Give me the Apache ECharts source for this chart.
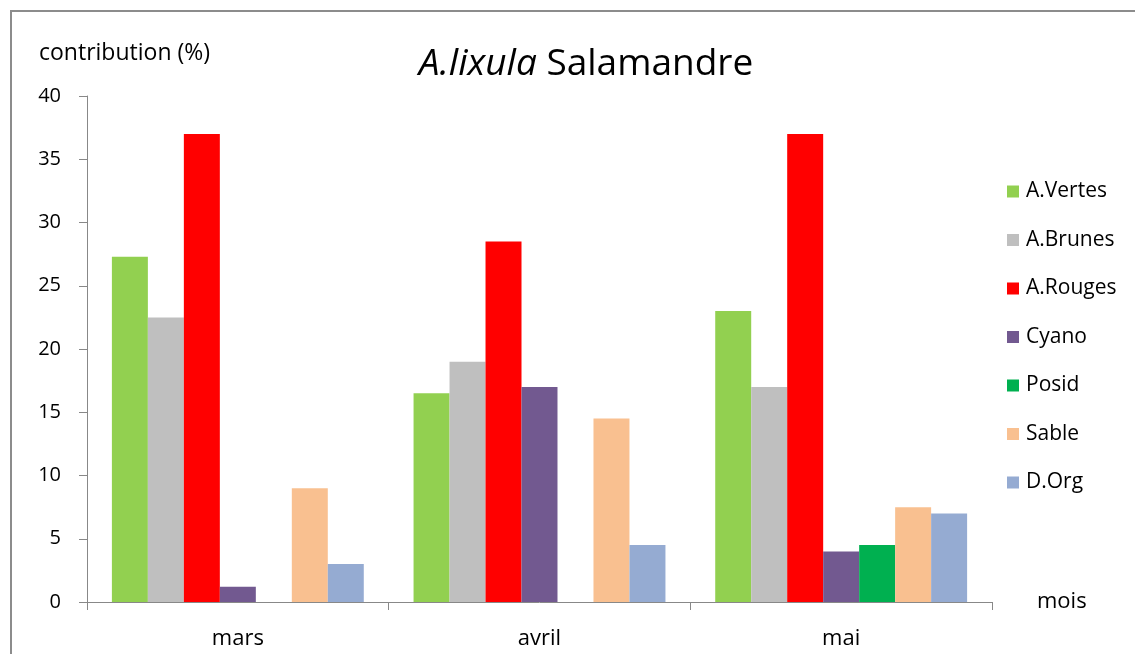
<!DOCTYPE html>
<html>
<head>
<meta charset="utf-8">
<title>A.lixula Salamandre</title>
<script src="https://cdn.jsdelivr.net/npm/echarts@6/dist/echarts.min.js"></script>
<style>
  html, body { margin: 0; padding: 0; background: #fff; }
  #chart { width: 1135px; height: 654px; }
</style>
</head>
<body>
<div id="chart"></div>
<script>
// donnees
var mois = ['mars', 'avril', 'mai'];
var groupes = ['A.Vertes', 'A.Brunes', 'A.Rouges', 'Cyano', 'Posid', 'Sable', 'D.Org'];
var couleurs = ['#92D050', '#BFBFBF', '#FF0000', '#725990', '#00B050', '#F9C090', '#95ABD2'];
var vertes = [27.3, 16.5, 23];
var brunes = [22.5, 19, 17];
var rouges = [37, 28.5, 37];
var cyano = [1.2, 17, 4];
var posid = [0, 0, 4.5];
var sable = [9, 14.5, 7.5];
var dorg = [3, 4.5, 7];
var valeurs = [vertes, brunes, rouges, cyano, posid, sable, dorg];

var police = '"Open Sans", "Liberation Sans", sans-serif';
var chart = echarts.init(document.getElementById('chart'));

var series = [];
for (var i = 0; i < groupes.length; i++) {
  series.push({
    name: groupes[i],
    type: 'bar',
    data: valeurs[i],
    barGap: '0%',
    barCategoryGap: '16.5%',
    itemStyle: { color: couleurs[i] }
  });
}

option = {
  animation: false,
  backgroundColor: '#fff',
  textStyle: { fontFamily: police },
  title: {
    text: '{i|A.lixula} Salamandre',
    left: 581,
    top: 41,
    textAlign: 'center',
    textStyle: {
      fontFamily: police,
      fontSize: 37,
      fontWeight: 'normal',
      color: '#000',
      rich: {
        i: { fontFamily: police, fontSize: 37, fontStyle: 'italic', color: '#000' }
      }
    }
  },
  legend: {
    orient: 'vertical',
    left: 1007,
    top: 181,
    padding: 0,
    itemWidth: 12,
    itemHeight: 12,
    itemGap: 27.5,
    icon: 'rect',
    data: groupes,
    textStyle: { fontFamily: police, fontSize: 21, color: '#000', padding: [0, 0, 0, 2] }
  },
  grid: { left: 87, right: 143, top: 96, bottom: 52 },
  xAxis: {
    type: 'category',
    data: mois,
    name: 'mois',
    nameLocation: 'end',
    nameGap: 0,
    nameTextStyle: { fontSize: 22, color: '#000', padding: [38, 0, 0, 45] },
    axisLine: { lineStyle: { color: '#888', width: 1 } },
    axisTick: { show: true, length: 8, lineStyle: { color: '#888' } },
    axisLabel: { fontSize: 22, color: '#000', margin: 26 }
  },
  yAxis: {
    type: 'value',
    min: 0,
    max: 40,
    interval: 5,
    name: 'contribution (%)',
    nameLocation: 'end',
    nameGap: 31,
    nameTextStyle: { fontSize: 23, color: '#000', align: 'left', padding: [0, 0, 0, -48] },
    axisLine: { show: true, lineStyle: { color: '#888', width: 1 } },
    axisTick: { show: true, length: 8, lineStyle: { color: '#888' } },
    axisLabel: { fontSize: 20, color: '#000', margin: 26 },
    splitLine: { show: false }
  },
  graphic: [{
    type: 'rect',
    shape: { x: 11, y: 11, width: 1200, height: 700 },
    style: { fill: 'none', stroke: '#8c8c8c', lineWidth: 2 },
    silent: true
  }],
  series: series
};

chart.setOption(option);
</script>
</body>
</html>
